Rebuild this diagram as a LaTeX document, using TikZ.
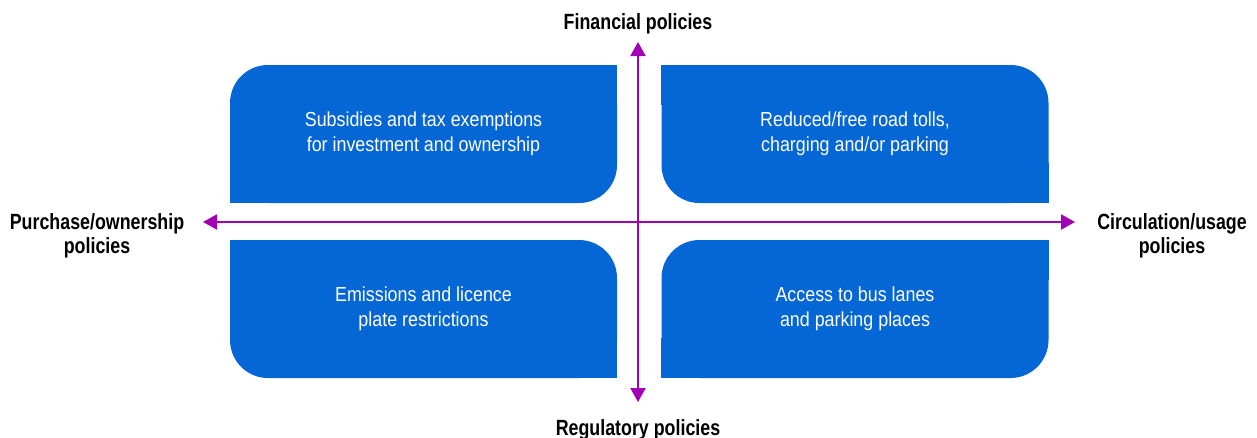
\documentclass[tikz,border=0pt]{standalone}
\usepackage{fontspec}
\setmainfont{Liberation Sans}
\newfontfamily\boxfont{Liberation Sans}[FakeStretch=0.88]
\newfontfamily\axisfont{Liberation Sans}[FakeStretch=0.81]
\usepackage{xcolor}
\usetikzlibrary{arrows.meta}
\definecolor{quadblue}{HTML}{0566D6}
\definecolor{axispurple}{HTML}{A100B5}
\tikzset{
  quad/.style={fill=quadblue, text=white, rounded corners=38pt,
    minimum width=387pt, minimum height=138pt, inner sep=0pt,
    align=center, font=\boxfont\fontsize{20.3}{25}\selectfont},
  axislabel/.style={align=center, font=\axisfont\bfseries\fontsize{22}{24}\selectfont},
  axisline/.style={axispurple, line width=2pt,
    {Triangle[length=14pt,width=15pt]}-{Triangle[length=14pt,width=15pt]}}
}

\begin{document}
\begin{tikzpicture}[x=1pt, y=-1pt]
			\useasboundingbox (0,0) rectangle (1257,437);

			% the four quadrants
			\node[quad] (subsidy) at (423.5,134) {Subsidies and tax exemptions\\for investment and ownership};
			\node[quad] (tolls) at (855,134) {Reduced/free road tolls,\\charging and/or parking};
			\node[quad] (plates) at (423.5,309) {Emissions and licence\\plate restrictions};
			\node[quad] (lanes) at (855,309) {Access to bus lanes\\and parking places};

			% square off the corners that are not rounded
			\fill[quadblue] (subsidy.north east) rectangle ++(-40,40);
			\fill[quadblue] (subsidy.south west) rectangle ++(40,-40);
			\fill[quadblue] (tolls.north west) rectangle ++(40,40);
			\fill[quadblue] (tolls.south east) rectangle ++(-40,-40);
			\fill[quadblue] (plates.north west) rectangle ++(40,40);
			\fill[quadblue] (plates.south east) rectangle ++(-40,-40);
			\fill[quadblue] (lanes.north east) rectangle ++(-40,40);
			\fill[quadblue] (lanes.south west) rectangle ++(40,-40);

			% axes
			\coordinate (fin) at (638,42);
			\coordinate (reg) at (638,402);
			\coordinate (own) at (203,222);
			\coordinate (use) at (1075,222);
			\draw[axisline] (reg) -- (fin);
			\draw[axisline] (own) -- (use);

			\node[axislabel, anchor=base] (finlabel) at (638,29) {Financial policies};
			\node[axislabel, anchor=base] (reglabel) at (638,435) {Regulatory policies};
			\node[axislabel] (ownlabel) at (97,235.5) {Purchase/ownership\\policies};
			\node[axislabel] (uselabel) at (1172,235.5) {Circulation/usage\\policies};
		\end{tikzpicture}
\end{document}
